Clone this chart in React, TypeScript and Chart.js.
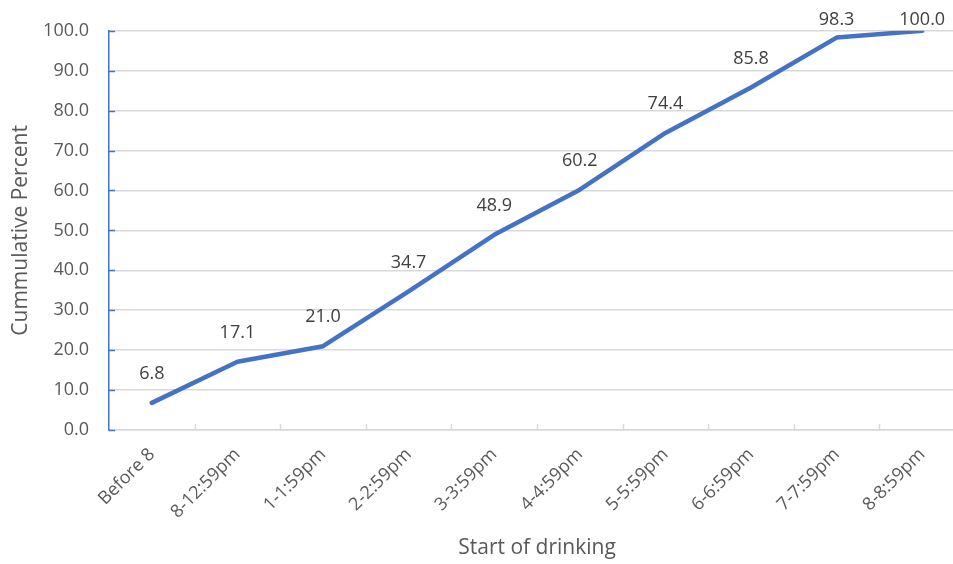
import React, { useEffect, useRef } from "react";
import { Chart, registerables } from "chart.js";

Chart.register(...registerables);

const categories = [
  "Before 8",
  "8-12:59pm",
  "1-1:59pm",
  "2-2:59pm",
  "3-3:59pm",
  "4-4:59pm",
  "5-5:59pm",
  "6-6:59pm",
  "7-7:59pm",
  "8-8:59pm",
];
const cumulativePercent = [6.8, 17.1, 21.0, 34.7, 48.9, 60.2, 74.4, 85.8, 98.3, 100.0];
const yTicks = [0, 10, 20, 30, 40, 50, 60, 70, 80, 90, 100];

const FONT = "'Open Sans', 'Noto Sans', sans-serif";
const TEXT = "#595959";
const LABEL = "#404040";
const GRID = "#D9D9D9";
const BLUE = "#4472C4";

const CANVAS_W = 980;
const CANVAS_H = 564;

// Value labels above each point, kept inside the top of the canvas.
const valueLabels = {
  id: "valueLabels",
  afterDatasetsDraw(chart: any) {
    const ctx = chart.ctx;
    const meta = chart.getDatasetMeta(0);
    ctx.save();
    ctx.font = `18px ${FONT}`;
    ctx.fillStyle = LABEL;
    ctx.textAlign = "center";
    ctx.textBaseline = "middle";
    meta.data.forEach((pt: any, i: number) => {
      const v = chart.data.datasets[0].data[i] as number;
      const y = Math.max(pt.y - 29, 20);
      ctx.fillText(v.toFixed(1), pt.x, y);
    });
    ctx.restore();
  },
};

// Short tick marks drawn inward from both axes.
const innerTicks = {
  id: "innerTicks",
  afterDraw(chart: any) {
    const ctx = chart.ctx;
    const x = chart.scales.x;
    const y = chart.scales.y;
    const area = chart.chartArea;
    ctx.save();
    ctx.lineWidth = 1.5;
    ctx.strokeStyle = BLUE;
    yTicks.forEach((t) => {
      const py = Math.round(y.getPixelForValue(t)) + 0.5;
      ctx.beginPath();
      ctx.moveTo(area.left, py);
      ctx.lineTo(area.left + 6, py);
      ctx.stroke();
    });
    ctx.strokeStyle = GRID;
    const half = (x.getPixelForValue(1) - x.getPixelForValue(0)) / 2;
    for (let i = 0; i < categories.length - 1; i++) {
      const px = Math.round(x.getPixelForValue(i) + half) + 0.5;
      ctx.beginPath();
      ctx.moveTo(px, area.bottom);
      ctx.lineTo(px, area.bottom - 6);
      ctx.stroke();
    }
    ctx.restore();
  },
};

export default function App() {
  const ref = useRef<HTMLCanvasElement | null>(null);

  useEffect(() => {
    if (!ref.current) return;
    const chart = new Chart(ref.current, {
      type: "line",
      data: {
        labels: categories,
        datasets: [
          {
            data: cumulativePercent,
            borderColor: BLUE,
            backgroundColor: BLUE,
            borderWidth: 4.5,
            borderCapStyle: "round",
            borderJoinStyle: "round",
            pointRadius: 0,
            tension: 0,
          },
        ],
      },
      options: {
        responsive: false,
        animation: false,
        layout: { padding: { top: 28, right: CANVAS_W - 965, left: 0, bottom: 0 } },
        plugins: {
          legend: { display: false },
          tooltip: { enabled: false },
        },
        scales: {
          x: {
            type: "category",
            offset: true,
            grid: { display: false, drawTicks: false },
            border: { display: true, color: GRID, width: 1.5 },
            ticks: {
              autoSkip: false,
              minRotation: 45,
              maxRotation: 45,
              padding: 14,
              color: TEXT,
              font: { family: FONT, size: 18 },
            },
            title: {
              display: true,
              text: "Start of drinking",
              color: TEXT,
              font: { family: FONT, size: 21 },
              padding: { top: 4, bottom: 3 },
            },
            afterFit(scale: any) {
              scale.height = CANVAS_H - 430;
            },
          },
          y: {
            min: 0,
            max: 100,
            afterBuildTicks(scale: any) {
              scale.ticks = yTicks.map((v) => ({ value: v }));
            },
            grid: { color: GRID, lineWidth: 1.5, drawTicks: false },
            border: { display: true, color: BLUE, width: 1.5 },
            ticks: {
              padding: 20,
              color: TEXT,
              font: { family: FONT, size: 18 },
              callback: (v: any) => Number(v).toFixed(1),
            },
            title: {
              display: true,
              text: "Cummulative Percent",
              color: TEXT,
              font: { family: FONT, size: 21 },
              padding: { top: 8, bottom: 4 },
            },
            afterFit(scale: any) {
              scale.width = 109;
            },
          },
        },
      },
      plugins: [valueLabels, innerTicks],
    });
    return () => chart.destroy();
  }, []);

  return (
    <div
      style={{
        position: "fixed",
        left: 0,
        top: 0,
        width: 953,
        height: 564,
        overflow: "hidden",
        background: "#fff",
      }}
    >
      <canvas
        ref={ref}
        width={CANVAS_W}
        height={CANVAS_H}
        style={{ display: "block", width: CANVAS_W, height: CANVAS_H }}
      />
    </div>
  );
}
